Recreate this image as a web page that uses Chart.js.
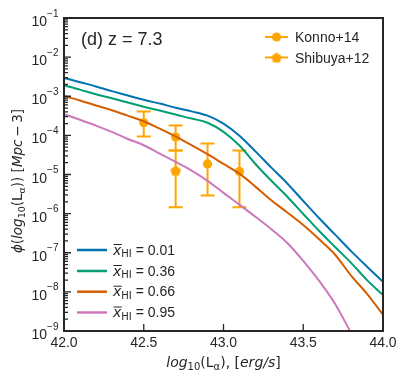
<!DOCTYPE html>
<html><head><meta charset="utf-8">
<script src="https://cdn.jsdelivr.net/npm/chart.js@4/dist/chart.umd.min.js"></script>
<style>html,body{margin:0;padding:0;background:#fff}#wrap{width:407px;height:384px;position:relative}</style>
</head><body><div id="wrap"><canvas id="c" width="407" height="384"></canvas></div>
<script>
// ---------- data ----------
const logL = [42.0,42.1,42.2,42.3,42.4,42.5,42.6,42.7,42.8,42.9,43.0,43.1,43.2,43.3,43.4,43.5,43.6,43.7,43.8,43.9,44.0];
const phiX001 = [2.95e-3,2.29e-3,1.78e-3,1.35e-3,1.05e-3,8.1e-4,6.5e-4,5.1e-4,4.1e-4,3.2e-4,2.0e-4,9.8e-5,3.9e-5,1.5e-5,5.9e-6,2.1e-6,7.6e-7,2.9e-7,1.1e-7,4.4e-8,1.8e-8];
const phiX036 = [1.9e-3,1.48e-3,1.12e-3,8.9e-4,6.9e-4,5.4e-4,4.3e-4,3.4e-4,2.7e-4,2.1e-4,1.23e-4,5.5e-5,1.86e-5,6.9e-6,2.7e-6,9.8e-7,3.6e-7,1.4e-7,5.5e-8,2.0e-8,8.3e-9];
const phiX066 = [1.0e-3,7.8e-4,5.8e-4,4.4e-4,3.2e-4,2.3e-4,1.48e-4,9.3e-5,5.6e-5,3.3e-5,1.86e-5,1.05e-5,4.9e-6,2.2e-6,1.07e-6,5.1e-7,2.2e-7,8.9e-8,2.6e-8,8.9e-9,2.6e-9];
const phiX095 = [3.5e-4,2.5e-4,1.78e-4,1.23e-4,8.1e-5,5.6e-5,3.4e-5,2.1e-5,1.26e-5,6.9e-6,3.4e-6,1.7e-6,8.3e-7,4.0e-7,1.78e-7,6.2e-8,1.9e-8,4.9e-9,8.9e-10];
const xHIValues = ['0.01','0.36','0.66','0.95'];

const konnoL   = [42.5, 42.7, 42.9, 43.1];
const konnoPhi = [2.1e-4, 9.1e-5, 1.86e-5, 1.2e-5];
const konnoHi  = [4.1e-4, 1.78e-4, 6.2e-5, 4.1e-5];
const konnoLo  = [9.3e-5, 4.1e-5, 2.9e-6, 1.45e-6];
const shibuyaL   = [42.7];
const shibuyaPhi = [1.26e-5];
const shibuyaHi  = [4.1e-5];
const shibuyaLo  = [1.45e-6];

const xTicks = [42.0, 42.5, 43.0, 43.5, 44.0];
const yExponents = [-9,-8,-7,-6,-5,-4,-3,-2,-1];

// ---------- styles ----------
const SANS = "'Liberation Sans', Arial, sans-serif";
const MATH = "'DejaVu Sans', sans-serif";
const INK = '#262626';
const ERR = '#ffa500';
const curveColors = ['#0173b2', '#029e73', '#d55e00', '#cc78bc'];

function pentagon(r, color) {
  const c = document.createElement('canvas');
  const s = Math.ceil(2 * r + 2);
  c.width = s; c.height = s;
  const g = c.getContext('2d');
  g.fillStyle = color;
  g.beginPath();
  for (let i = 0; i < 5; i++) {
    const a = -Math.PI / 2 + i * 2 * Math.PI / 5;
    const px = s / 2 + r * Math.cos(a), py = s / 2 + r * Math.sin(a) + 0.5;
    if (i === 0) g.moveTo(px, py); else g.lineTo(px, py);
  }
  g.closePath(); g.fill();
  return c;
}
const pentImg = pentagon(5.6, ERR);

function curve(arr) { return arr.map((v, i) => ({ x: logL[i], y: v })); }
const curves = [phiX001, phiX036, phiX066, phiX095];

const datasets = curves.map((arr, i) => ({
  data: curve(arr), showLine: true, borderColor: curveColors[i], borderWidth: 2,
  pointRadius: 0, fill: false, cubicInterpolationMode: 'monotone'
}));
datasets.push({
  data: konnoL.map((x, i) => ({ x, y: konnoPhi[i] })), showLine: false,
  pointStyle: 'circle', pointRadius: 4.6, backgroundColor: ERR, borderWidth: 0,
  pointBackgroundColor: ERR, pointBorderWidth: 0
});
datasets.push({
  data: shibuyaL.map((x, i) => ({ x, y: shibuyaPhi[i] })), showLine: false,
  pointStyle: pentImg, pointRadius: 5, backgroundColor: ERR, borderWidth: 0
});

function drawRich(ctx, segs, x, y, align) {
  let w = 0;
  for (const s of segs) { ctx.font = s.f; w += ctx.measureText(s.t).width; }
  let cx = align === 'center' ? x - w / 2 : (align === 'right' ? x - w : x);
  for (const s of segs) {
    ctx.font = s.f;
    ctx.fillText(s.t, cx, y + (s.dy || 0));
    s.x0 = cx; s.w = ctx.measureText(s.t).width;
    cx += s.w;
  }
  return segs;
}

function errBars(ctx, xs, hi, lo, sx, sy) {
  ctx.save();
  ctx.strokeStyle = ERR; ctx.lineWidth = 2; ctx.lineCap = 'butt';
  for (let i = 0; i < xs.length; i++) {
    const px = sx.getPixelForValue(xs[i]);
    const ph = sy.getPixelForValue(hi[i]);
    const pl = sy.getPixelForValue(lo[i]);
    ctx.beginPath();
    ctx.moveTo(px, ph); ctx.lineTo(px, pl);
    ctx.moveTo(px - 7, ph); ctx.lineTo(px + 7, ph);
    ctx.moveTo(px - 7, pl); ctx.lineTo(px + 7, pl);
    ctx.stroke();
  }
  ctx.restore();
}

const decor = {
  id: 'decor',
  beforeDatasetDraw(chart, args) {
    if (args.index !== 4) return;
    const sx = chart.scales.x, sy = chart.scales.y, ctx = chart.ctx;
    errBars(ctx, konnoL, konnoHi, konnoLo, sx, sy);
    errBars(ctx, shibuyaL, shibuyaHi, shibuyaLo, sx, sy);
  },
  afterDraw(chart) {
    const ctx = chart.ctx, a = chart.chartArea;
    const sx = chart.scales.x, sy = chart.scales.y;
    ctx.save();
    ctx.fillStyle = INK; ctx.strokeStyle = INK;
    ctx.textBaseline = 'alphabetic'; ctx.textAlign = 'left';

    // ticks (inward)
    ctx.lineWidth = 1.3;
    ctx.beginPath();
    for (const v of xTicks) {
      const px = sx.getPixelForValue(v);
      ctx.moveTo(px, a.bottom); ctx.lineTo(px, a.bottom - 7);
    }
    for (const e of yExponents) {
      const py = sy.getPixelForValue(Math.pow(10, e));
      ctx.moveTo(a.left, py); ctx.lineTo(a.left + 7, py);
      if (e < -1) {
        for (let m = 2; m <= 9; m++) {
          const pm = sy.getPixelForValue(m * Math.pow(10, e));
          ctx.moveTo(a.left, pm); ctx.lineTo(a.left + 4, pm);
        }
      }
    }
    ctx.stroke();

    // y tick labels 10^e
    for (const e of yExponents) {
      const py = sy.getPixelForValue(Math.pow(10, e));
      const segs = [
        { t: '10', f: '14px ' + SANS, dy: 8 },
        { t: '\u2212' + Math.abs(e), f: '10px ' + SANS, dy: -1.5 }
      ];
      drawRich(ctx, segs, 58.5, py, 'right');
    }

    // frame
    ctx.lineWidth = 2;
    ctx.strokeRect(a.left, a.top, a.right - a.left, a.bottom - a.top);

    // panel label
    ctx.font = '18px ' + SANS;
    ctx.fillText('(d) z = 7.3', 81, 45);

    // x title
    drawRich(ctx, [
      { t: 'log', f: 'italic 14px ' + MATH },
      { t: '10', f: '10px ' + MATH, dy: 3 },
      { t: '(L', f: '14px ' + MATH },
      { t: '\u03b1', f: '10px ' + MATH, dy: 3 },
      { t: '), [', f: '14px ' + MATH },
      { t: 'erg/s', f: 'italic 14px ' + MATH },
      { t: ']', f: '14px ' + MATH }
    ], (a.left + a.right) / 2, 367, 'center');

    // y title
    ctx.save();
    ctx.translate(22, 181);
    ctx.rotate(-Math.PI / 2);
    drawRich(ctx, [
      { t: '\u03d5', f: 'italic 13.5px ' + MATH },
      { t: '(', f: '13.5px ' + MATH },
      { t: 'log', f: 'italic 13.5px ' + MATH },
      { t: '10', f: '9.5px ' + MATH, dy: 3 },
      { t: '(L', f: '13.5px ' + MATH },
      { t: '\u03b1', f: '9.5px ' + MATH, dy: 3 },
      { t: ')) [', f: '13.5px ' + MATH },
      { t: 'Mpc', f: 'italic 13.5px ' + MATH },
      { t: '\u2009\u2212\u20093]', f: '13.5px ' + MATH }
    ], 0, 0, 'center');
    ctx.restore();

    // upper-right legend (observations)
    const obs = [{ label: 'Konno+14', y: 37, style: 'circle' }, { label: 'Shibuya+12', y: 57.5, style: 'pent' }];
    for (const o of obs) {
      ctx.strokeStyle = ERR; ctx.lineWidth = 2;
      ctx.beginPath(); ctx.moveTo(265, o.y); ctx.lineTo(288, o.y); ctx.stroke();
      if (o.style === 'circle') {
        ctx.fillStyle = ERR; ctx.beginPath(); ctx.arc(276.5, o.y, 4.6, 0, 2 * Math.PI); ctx.fill();
      } else {
        ctx.drawImage(pentImg, 276.5 - pentImg.width / 2, o.y - pentImg.height / 2);
      }
      ctx.fillStyle = INK; ctx.font = '14px ' + SANS;
      ctx.fillText(o.label, 295, o.y + 5);
    }

    // lower-left legend (models)
    const rows = [250, 271, 291.7, 312.5];
    for (let i = 0; i < 4; i++) {
      const y = rows[i];
      ctx.strokeStyle = curveColors[i]; ctx.lineWidth = 2.5;
      ctx.beginPath(); ctx.moveTo(77, y); ctx.lineTo(107, y); ctx.stroke();
      ctx.fillStyle = INK; ctx.strokeStyle = INK;
      const segs = drawRich(ctx, [
        { t: 'x', f: 'italic 14px ' + MATH },
        { t: 'HI', f: '10px ' + MATH, dy: 2.5 },
        { t: ' = ' + xHIValues[i], f: '14px ' + SANS }
      ], 113, y + 4.5, 'left');
      ctx.lineWidth = 1;
      ctx.beginPath();
      ctx.moveTo(segs[0].x0 + 0.5, y - 5.5); ctx.lineTo(segs[0].x0 + segs[0].w + 0.5, y - 5.5);
      ctx.stroke();
    }
    ctx.restore();
  }
};

new Chart(document.getElementById('c').getContext('2d'), {
  type: 'scatter',
  data: { datasets },
  options: {
    responsive: false, animation: false, devicePixelRatio: 1,
    layout: { padding: { left: 0, right: 24, top: 18, bottom: 0 } },
    plugins: { legend: { display: false }, tooltip: { enabled: false } },
    scales: {
      x: {
        type: 'linear', min: 42, max: 44,
        afterBuildTicks: s => { s.ticks = xTicks.map(v => ({ value: v })); },
        ticks: { callback: v => Number(v).toFixed(1), font: { size: 14, family: SANS }, color: INK, padding: 4, maxRotation: 0, autoSkip: false },
        grid: { display: false, drawTicks: false }, border: { display: false },
        afterFit: s => { s.height = 53; }
      },
      y: {
        type: 'logarithmic', min: 1e-9, max: 1e-1,
        ticks: { display: false }, grid: { display: false, drawTicks: false }, border: { display: false },
        afterFit: s => { s.width = 64; }
      }
    }
  },
  plugins: [decor]
});
</script></body></html>
